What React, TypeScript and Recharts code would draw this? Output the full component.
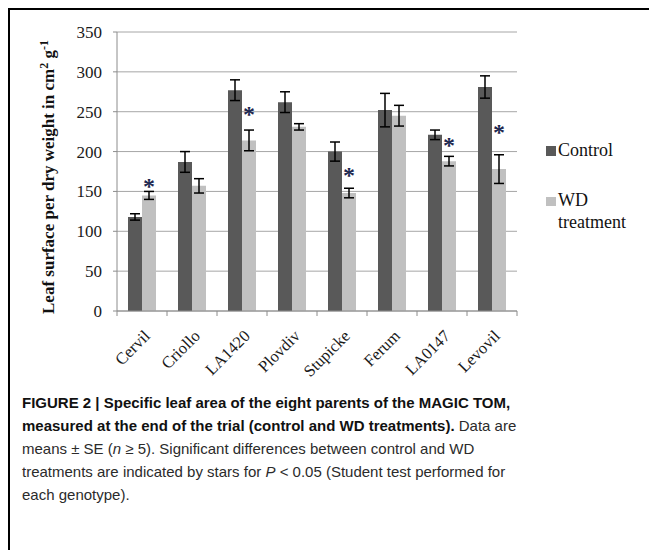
import React from 'react';
import { ComposedChart, Bar, Line, XAxis, YAxis, CartesianGrid, ErrorBar } from 'recharts';

// values
const genotypes = ['Cervil', 'Criollo', 'LA1420', 'Plovdiv', 'Stupicke', 'Ferum', 'LA0147', 'Levovil'];
const control = [118, 187, 277, 262, 200, 252, 221, 281];
const controlSE = [4, 13, 13, 13, 12, 21, 6, 14];
const wdTreatment = [145, 157, 214, 231, 148, 245, 188, 178];
const wdSE = [5, 9, 13, 4, 6, 13, 6, 18];
// height of the significance star (null = not significant)
const starAt = [162, null, 252, null, 176, null, 213, 230];
const yTicks = [0, 50, 100, 150, 200, 250, 300, 350];

const data = genotypes.map((g, i) => ({
  name: g,
  control: control[i],
  controlSE: controlSE[i],
  wd: wdTreatment[i],
  wdSE: wdSE[i],
  star: starAt[i],
}));

const CONTROL_COLOR = '#595959';
const WD_COLOR = '#c0c0c0';
const AXIS_COLOR = '#8c8c8c';
const SERIF = '"Liberation Serif", "DejaVu Serif", serif';
const SANS = '"Liberation Sans", Arial, sans-serif';

const XTick = (props: any) => {
  const { x, y, payload, index } = props;
  const half = payload.offset || 25;
  return (
    <g>
      <line x1={x - half} y1={y} x2={x - half} y2={y + 5} stroke={AXIS_COLOR} strokeWidth={1} />
      {index === genotypes.length - 1 && (
        <line x1={x + half} y1={y} x2={x + half} y2={y + 5} stroke={AXIS_COLOR} strokeWidth={1} />
      )}
      <text
        x={x + 9}
        y={y + 26}
        textAnchor="end"
        transform={`rotate(-45, ${x + 9}, ${y + 26})`}
        fontFamily={SERIF}
        fontSize={16.5}
        fill="#1a1a1a"
      >
        {payload.value}
      </text>
    </g>
  );
};

const StarDot = (props: any) => {
  const { cx, cy, value } = props;
  if (value == null || cy == null || isNaN(cy)) return null;
  return (
    <text
      x={cx + 7}
      y={cy + 12}
      textAnchor="middle"
      fontFamily={SERIF}
      fontWeight="bold"
      fontSize={24}
      stroke="none"
      style={{ fill: '#1e2850' }}
    >
      *
    </text>
  );
};

const YLabel = () => (
  <text
    x={44}
    y={167}
    transform="rotate(-90, 44, 167)"
    textAnchor="middle"
    fontFamily={SERIF}
    fontWeight="bold"
    fontSize={17}
    fill="#111"
  >
    Leaf surface per dry weight in cm
    <tspan fontSize={12} dy={-6}>2</tspan>
    <tspan dy={6}> g</tspan>
    <tspan fontSize={12} dy={-6}>-1</tspan>
  </text>
);

export default function App() {
  return (
    <div
      style={{
        position: 'relative',
        width: 649,
        height: 542,
        boxSizing: 'border-box',
        borderTop: '2px solid #000',
        borderLeft: '2px solid #000',
        background: '#fff',
      }}
    >
      <div style={{ position: 'absolute', left: 0, top: 0 }}>
        <ComposedChart
          width={640}
          height={380}
          data={data}
          margin={{ top: 22, right: 133, bottom: 19, left: 47 }}
          barGap={0}
          barSize={14}
        >
          <CartesianGrid vertical={false} stroke="#a6a6a6" />
          <XAxis
            dataKey="name"
            height={60}
            stroke={AXIS_COLOR}
            tickLine={false}
            tickSize={0}
            tickMargin={0}
            interval={0}
            tick={<XTick />}
          />
          <YAxis
            width={60}
            domain={[0, 350]}
            ticks={yTicks}
            stroke={AXIS_COLOR}
            tickSize={4}
            tickMargin={11}
            tick={{ fontFamily: SERIF, fontSize: 17, fill: '#1a1a1a' }}
            label={YLabel}
          />
          <Bar dataKey="control" fill={CONTROL_COLOR} isAnimationActive={false}>
            <ErrorBar dataKey="controlSE" width={5} stroke="#000" strokeWidth={1.5} direction="y" />
          </Bar>
          <Bar dataKey="wd" fill={WD_COLOR} isAnimationActive={false}>
            <ErrorBar dataKey="wdSE" width={5} stroke="#000" strokeWidth={1.5} direction="y" />
          </Bar>
          <Line
            dataKey="star"
            stroke="none"
            dot={<StarDot />}
            activeDot={false}
            legendType="none"
            connectNulls={false}
            isAnimationActive={false}
          />
        </ComposedChart>
      </div>

      {/* legend */}
      <div style={{ position: 'absolute', left: 536, top: 129, fontFamily: SERIF, fontSize: 18, color: '#111' }}>
        <div style={{ position: 'absolute', left: 0, top: 7, width: 10, height: 10, background: CONTROL_COLOR }} />
        <div style={{ position: 'absolute', left: 12, top: 0, lineHeight: '22px', whiteSpace: 'nowrap' }}>Control</div>
        <div style={{ position: 'absolute', left: 0, top: 58, width: 10, height: 9, background: WD_COLOR }} />
        <div style={{ position: 'absolute', left: 12, top: 50, lineHeight: '22px', whiteSpace: 'nowrap' }}>
          WD
          <br />
          treatment
        </div>
      </div>

      {/* caption */}
      <div
        style={{
          position: 'absolute',
          left: 12,
          top: 381,
          fontFamily: SANS,
          fontSize: 15,
          lineHeight: '23px',
          letterSpacing: 0,
          color: '#2b2b2b',
          whiteSpace: 'nowrap',
        }}
      >
        <div style={{ fontWeight: 'bold', color: '#111' }}>
          FIGURE 2 | Specific leaf area of the eight parents of the MAGIC TOM,
        </div>
        <div>
          <span style={{ fontWeight: 'bold', color: '#111' }}>
            measured at the end of the trial (control and WD treatments).
          </span>{' '}
          Data are
        </div>
        <div>
          means ± SE (<i>n</i> ≥ 5). Significant differences between control and WD
        </div>
        <div>
          treatments are indicated by stars for <i>P</i> &lt; 0.05 (Student test performed for
        </div>
        <div>each genotype).</div>
      </div>
    </div>
  );
}
